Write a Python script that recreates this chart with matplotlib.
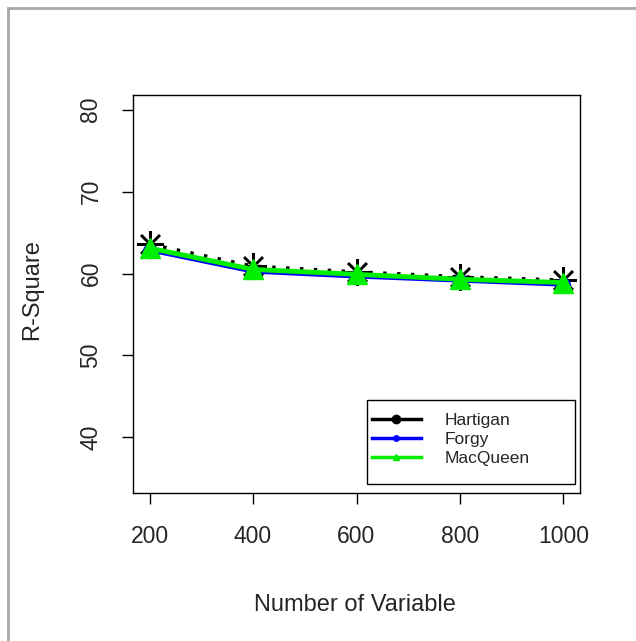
import matplotlib
matplotlib.use("Agg")
import matplotlib.pyplot as plt
from matplotlib.lines import Line2D
from matplotlib.patches import Rectangle

plt.rcParams['font.family'] = ['Liberation Sans', 'DejaVu Sans']

variables = [200, 400, 600, 800, 1000]
hartigan = [63.6, 60.9, 60.2, 59.6, 59.2]
forgy = [62.8, 60.2, 59.6, 59.1, 58.6]
macqueen = [63.1, 60.5, 59.9, 59.3, 58.9]
series_names = ["Hartigan", "Forgy", "MacQueen"]
y_ticks = [40, 50, 60, 70, 80]
x_ticks = [200, 400, 600, 800, 1000]

W, H = 636, 641
AX_L, AX_R, AX_T, AX_B = 133, 580, 95, 493
txt = '#262626'
fig = plt.figure(figsize=(W/100, H/100), dpi=100)
fig.patches.append(Rectangle((8/W, -0.1), 1.2, 1 - 8/H + 0.1, transform=fig.transFigure,
                             fill=False, edgecolor='#a8a8a8', linewidth=2))
ax = fig.add_axes([AX_L/W, 1-AX_B/H, (AX_R-AX_L)/W, (AX_B-AX_T)/H])

ax.plot(variables, forgy, color='blue', linewidth=2.5, marker='o', markersize=10, zorder=2)
ax.plot(variables, macqueen, color='#00ee00', linewidth=3.5, marker='^', markersize=14, zorder=3)
ax.plot(variables, hartigan, color='black', linewidth=2.5, linestyle=(0, (1, 3)), marker=(8, 2, 0),
        markersize=19, markeredgewidth=1.8, zorder=1)

ax.set_xlim(168, 1032)
ax.set_ylim(33.2, 81.8)
ax.set_xticks(x_ticks)
ax.set_yticks(y_ticks)
ax.set_yticklabels([str(t) for t in y_ticks], rotation=90, va='center')
ax.tick_params(axis='x', direction='out', length=8, width=1, labelsize=16.5, pad=15, labelcolor=txt)
ax.tick_params(axis='y', direction='out', length=8, width=1, labelsize=16.5, pad=14, labelcolor=txt)
for s in ax.spines.values():
    s.set_linewidth(1)

fig.text(355/W, 1-605/H, "Number of Variable", fontsize=17, ha='center', va='center', color=txt)
fig.text(32/W, 1-290/H, "R-Square", fontsize=17, ha='center', va='center', rotation=90, color=txt)

def ax_x(px):
    return (px - AX_L) / (AX_R - AX_L)

def ax_y(py):
    return (AX_B - py) / (AX_B - AX_T)

# legend frame
ax.add_patch(Rectangle((ax_x(367), ax_y(484)), ax_x(575) - ax_x(367), ax_y(400) - ax_y(484),
                       transform=ax.transAxes, fill=True, facecolor='white',
                       edgecolor='black', linewidth=1, zorder=5))
handles = [
    Line2D([], [], color='black', linewidth=2.5, marker='o', markersize=6),
    Line2D([], [], color='blue', linewidth=2.5, marker='o', markersize=4),
    Line2D([], [], color='#00ee00', linewidth=2.5, marker='^', markersize=4),
]
leg = ax.legend(handles, series_names, loc='upper left', fontsize=12.5, frameon=False,
                handlelength=2.8, handletextpad=1.4, borderpad=0, labelspacing=0.22,
                borderaxespad=0, bbox_to_anchor=(ax_x(372), ax_y(413)))
leg.set_zorder(6)
for t in leg.get_texts():
    t.set_color(txt)

fig.savefig("out.png", dpi=100)
